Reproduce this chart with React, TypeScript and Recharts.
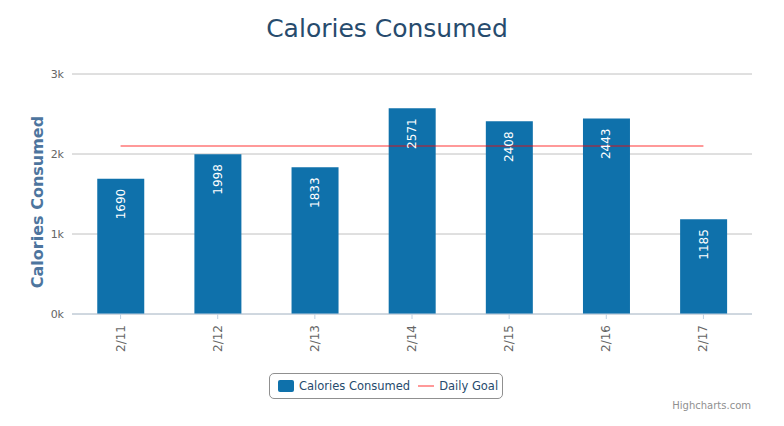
import React from "react";
import {
  ComposedChart,
  Bar,
  Line,
  XAxis,
  YAxis,
  CartesianGrid,
  LabelList,
} from "recharts";

const days = ["2/11", "2/12", "2/13", "2/14", "2/15", "2/16", "2/17"];
const calories = [1690, 1998, 1833, 2571, 2408, 2443, 1185];
const dailyGoal = [2100, 2100, 2100, 2100, 2100, 2100, 2100];
const yTicks = [0, 1000, 2000, 3000];

const data = days.map((day, i) => ({
  day,
  calories: calories[i],
  goal: dailyGoal[i],
}));

const FONT = "'DejaVu Sans', Verdana, Arial, sans-serif";
const BAR_COLOR = "#0f71ab";

const BarValueLabel = (props: any) => {
  const { x, y, width, value } = props;
  const cx = x + width / 2;
  const ty = y + 10;
  return (
    <text
      x={cx}
      y={ty}
      transform={`rotate(-90 ${cx} ${ty})`}
      textAnchor="end"
      dominantBaseline="central"
      fill="#fff"
      fontSize={12}
      fontFamily={FONT}
    >
      {value}
    </text>
  );
};

const XTick = (props: any) => {
  const { x, y, payload } = props;
  const ty = y + 4;
  return (
    <text
      x={x}
      y={ty}
      transform={`rotate(-90 ${x} ${ty})`}
      textAnchor="end"
      dominantBaseline="central"
      fill="#666"
      fontSize={12}
      fontFamily={FONT}
    >
      {payload.value}
    </text>
  );
};

export default function App() {
  return (
    <div
      style={{
        position: "relative",
        width: 784,
        height: 426,
        background: "#fff",
        fontFamily: FONT,
      }}
    >
      <style>{`body{margin:0}`}</style>
      <div
        style={{
          position: "absolute",
          top: 14,
          left: 0,
          width: 774,
          textAlign: "center",
          fontSize: 25,
          color: "#274b6d",
        }}
      >
        Calories Consumed
      </div>
      <div
        style={{
          position: "absolute",
          left: 37,
          top: 202,
          transform: "translate(-50%, -50%) rotate(-90deg)",
          whiteSpace: "nowrap",
          fontSize: 16,
          fontWeight: "bold",
          color: "#4d759e",
        }}
      >
        Calories Consumed
      </div>
      <ComposedChart
        width={784}
        height={426}
        data={data}
        margin={{ top: 74, right: 32, left: 42, bottom: 72 }}
        barCategoryGap="26%"
      >
        <CartesianGrid vertical={false} stroke="#c0c0c0" />
        <XAxis
          dataKey="day"
          tick={<XTick />}
          tickLine={{ stroke: "#c0d0e0" }}
          tickSize={5}
          axisLine={{ stroke: "#c0d0e0" }}
          interval={0}
          height={40}
        />
        <YAxis
          width={30}
          domain={[0, 3000]}
          ticks={yTicks}
          tickFormatter={(v: number) => `${v / 1000}k`}
          tick={{ fill: "#666", fontSize: 11, fontFamily: FONT }}
          tickLine={false}
          axisLine={false}
        />
        <Bar dataKey="calories" fill={BAR_COLOR} isAnimationActive={false}>
          <LabelList dataKey="calories" content={<BarValueLabel />} />
        </Bar>
        <Line
          type="linear"
          dataKey="goal"
          stroke="#ff0000"
          strokeOpacity={0.4}
          strokeWidth={2}
          dot={false}
          activeDot={false}
          isAnimationActive={false}
        />
      </ComposedChart>
      <div
        style={{
          position: "absolute",
          left: 269,
          top: 373,
          width: 232,
          height: 24,
          border: "1px solid #909090",
          borderRadius: 5,
          display: "flex",
          alignItems: "center",
          fontSize: 11.5,
          color: "#274b6d",
          whiteSpace: "nowrap",
          boxSizing: "content-box",
        }}
      >
        <span
          style={{
            display: "inline-block",
            flex: "none",
            width: 16,
            height: 12,
            borderRadius: 2,
            background: BAR_COLOR,
            marginLeft: 8,
            marginRight: 5,
          }}
        />
        <span>Calories Consumed</span>
        <span
          style={{
            display: "inline-block",
            flex: "none",
            width: 16,
            height: 2,
            background: "rgba(255,0,0,0.4)",
            marginLeft: 8,
            marginRight: 5,
          }}
        />
        <span>Daily Goal</span>
      </div>
      <div
        style={{
          position: "absolute",
          right: 33,
          top: 400,
          fontSize: 10,
          color: "#909090",
        }}
      >
        Highcharts.com
      </div>
    </div>
  );
}
